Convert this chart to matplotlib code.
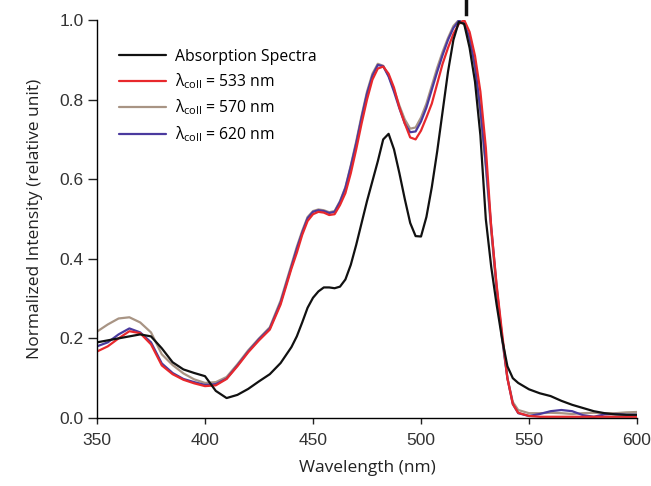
import numpy as np
import matplotlib
matplotlib.use("Agg")
import matplotlib.pyplot as plt

# wavelength grid (nm)
wl = [350, 355, 360, 365, 370, 375, 380, 385, 390, 395, 400, 405, 410, 415, 420, 425, 430, 435, 440,
      442.5, 445, 447.5, 450, 452.5, 455, 457.5, 460, 462.5, 465, 467.5, 470, 472.5, 475, 477.5, 480,
      482.5, 485, 487.5, 490, 492.5, 495, 497.5, 500, 502.5, 505, 507.5, 510, 512.5, 515, 517.5, 520,
      522.5, 525, 527.5, 530, 532.5, 535, 537.5, 540, 542.5, 545,
      550, 555, 560, 565, 570, 575, 580, 585, 590, 595, 600]

absorption = [0.19, 0.195, 0.20, 0.205, 0.21, 0.205, 0.175, 0.14, 0.122, 0.113, 0.105, 0.068, 0.05, 0.058,
              0.073, 0.092, 0.11, 0.138, 0.178,
              0.205, 0.24, 0.277, 0.302, 0.318, 0.328, 0.328, 0.326, 0.33, 0.348, 0.385, 0.435, 0.49, 0.545,
              0.595, 0.645,
              0.70, 0.714, 0.675, 0.615, 0.55, 0.49, 0.457, 0.456, 0.505, 0.58, 0.67, 0.77, 0.87, 0.95, 0.995,
              0.99,
              0.93, 0.845, 0.71, 0.50, 0.38, 0.285, 0.20, 0.13, 0.10, 0.088,
              0.072, 0.062, 0.055, 0.043, 0.033, 0.025, 0.017, 0.012, 0.009, 0.008, 0.008]

coll_533 = [0.167, 0.18, 0.20, 0.218, 0.213, 0.185, 0.132, 0.11, 0.096, 0.087, 0.08, 0.082, 0.098, 0.13,
            0.165, 0.195, 0.222, 0.285, 0.375,
            0.415, 0.46, 0.495, 0.512, 0.518, 0.516, 0.51, 0.512, 0.535, 0.565, 0.615, 0.675, 0.74, 0.80,
            0.85, 0.878,
            0.883, 0.865, 0.83, 0.78, 0.74, 0.705, 0.70, 0.722, 0.755, 0.79, 0.84, 0.89, 0.93, 0.965, 0.99,
            1.0,
            0.97, 0.91, 0.82, 0.68, 0.48, 0.335, 0.215, 0.10, 0.035, 0.013,
            0.005, 0.003, 0.003, 0.003, 0.003, 0.003, 0.003, 0.003, 0.003, 0.003, 0.003]

coll_570 = [0.217, 0.235, 0.25, 0.253, 0.24, 0.215, 0.16, 0.133, 0.112, 0.097, 0.088, 0.09, 0.103, 0.135,
            0.17, 0.20, 0.228, 0.295, 0.385,
            0.43, 0.47, 0.505, 0.52, 0.524, 0.522, 0.517, 0.52, 0.545, 0.58, 0.635, 0.695, 0.76, 0.82,
            0.865, 0.89,
            0.885, 0.86, 0.825, 0.785, 0.75, 0.727, 0.73, 0.755, 0.79, 0.835, 0.88, 0.92, 0.955, 0.985, 1.0,
            0.99,
            0.95, 0.88, 0.77, 0.63, 0.47, 0.32, 0.20, 0.10, 0.04, 0.02,
            0.012, 0.012, 0.013, 0.012, 0.01, 0.012, 0.013, 0.012, 0.012, 0.014, 0.015]

coll_620 = [0.18, 0.19, 0.21, 0.225, 0.215, 0.19, 0.137, 0.113, 0.098, 0.09, 0.083, 0.085, 0.099, 0.132,
            0.167, 0.198, 0.225, 0.29, 0.38,
            0.425, 0.466, 0.502, 0.518, 0.522, 0.52, 0.515, 0.518, 0.543, 0.578, 0.632, 0.69, 0.755, 0.815,
            0.86, 0.887,
            0.884, 0.858, 0.82, 0.778, 0.74, 0.718, 0.72, 0.745, 0.78, 0.825, 0.87, 0.912, 0.95, 0.98, 0.998,
            0.992,
            0.955, 0.885, 0.775, 0.64, 0.48, 0.33, 0.205, 0.10, 0.035, 0.012,
            0.005, 0.01, 0.017, 0.02, 0.017, 0.007, 0.003, 0.009, 0.01, 0.008, 0.008]

labels = ["Absorption Spectra",
          "λ$_{\\mathrm{coll}}$ = 533 nm",
          "λ$_{\\mathrm{coll}}$ = 570 nm",
          "λ$_{\\mathrm{coll}}$ = 620 nm"]
colors = ["#111111", "#e8282c", "#a89484", "#4a3a9e"]

plt.rcParams["font.family"] = ["Open Sans", "DejaVu Sans"]
plt.rcParams["mathtext.fontset"] = "custom"
plt.rcParams["mathtext.rm"] = "Open Sans"
plt.rcParams["mathtext.it"] = "Open Sans:italic"

fig = plt.figure(figsize=(6.51, 4.86), dpi=100)
ax = fig.add_axes([0.149, 0.14, 0.8295, 0.8188])

series = [absorption, coll_533, coll_570, coll_620]
# colored spectra first so the absorption curve sits on top
order = [2, 3, 1, 0]
lines = {}
for i in order:
    ln, = ax.plot(wl, series[i], color=colors[i], lw=1.6, label=labels[i], solid_capstyle="round")
    lines[i] = ln

ax.set_xlim(350, 600)
ax.set_ylim(0, 1.0)
ax.set_xticks([350, 400, 450, 500, 550, 600])
ax.set_yticks([0.0, 0.2, 0.4, 0.6, 0.8, 1.0])
ax.set_yticklabels(["0.0", "0.2", "0.4", "0.6", "0.8", "1.0"])
for lab in ax.get_xticklabels() + ax.get_yticklabels():
    lab.set_family(["Liberation Sans"])
    lab.set_fontsize(12.5)
ax.tick_params(direction="out", width=1, color="#222222", labelcolor="#333333")
ax.tick_params(axis="y", length=6.5, pad=3)
ax.tick_params(axis="x", length=4.5, pad=6)
ax.spines["top"].set_visible(False)
ax.spines["right"].set_visible(False)
ax.spines["left"].set_linewidth(1)
ax.spines["bottom"].set_linewidth(1)

ax.set_xlabel("Wavelength (nm)", fontsize=12.5, color="#222222", labelpad=9)
ax.set_ylabel("Normalized Intensity (relative unit)", fontsize=12.5, color="#222222", labelpad=12)

leg = ax.legend([lines[i] for i in range(4)], labels, loc="upper left", bbox_to_anchor=(0.02, 0.955),
                frameon=False, fontsize=11.3, handlelength=3.0, handletextpad=0.55, labelspacing=0.42,
                borderpad=0.2)

# small marker above the plot
ax.plot([520.8, 520.8], [1.015, 1.05], color="#111111", lw=2.5, clip_on=False)

fig.savefig("out.png", dpi=100)
